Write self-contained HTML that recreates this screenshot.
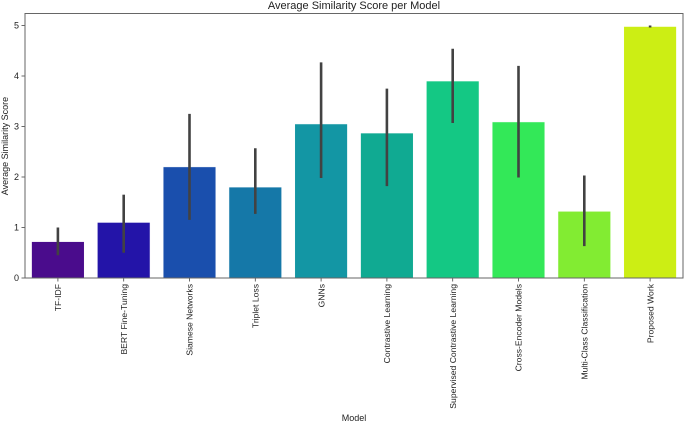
<!DOCTYPE html>
<html><head><meta charset="utf-8"><style>
html,body{margin:0;padding:0;background:#fff;}
svg{display:block;font-family:"Liberation Sans","DejaVu Sans",sans-serif;}
</style></head><body>
<svg id="chart" width="685" height="424" viewBox="0 0 685 424">
<rect x="0" y="0" width="685" height="424" fill="#fff"/>
<text x="354" y="9" font-size="11" text-anchor="middle" fill="#222">Average Similarity Score per Model</text>
<g id="bars"></g>
<g id="errs"></g>
<g id="yaxis"></g>
<g id="xaxis"></g>
<rect x="25" y="13.5" width="658" height="264.5" fill="none" stroke="#666" stroke-width="1"/>
<text transform="translate(8,146) rotate(-90)" font-size="9" text-anchor="middle" fill="#222">Average Similarity Score</text>
<text x="354" y="421" font-size="9" text-anchor="middle" fill="#222">Model</text>
</svg>
<script>
const categories = ["TF-IDF","BERT Fine-Tuning","Siamese Networks","Triplet Loss","GNNs","Contrastive Learning","Supervised Contrastive Learning","Cross-Encoder Models","Multi-Class Classification","Proposed Work"];
const values = [0.72,1.1,2.2,1.8,3.05,2.87,3.9,3.09,1.32,4.98];
const errLow = [0.45,0.5,1.15,1.27,1.98,1.82,3.07,1.99,0.63,4.96];
const errHigh = [1.0,1.65,3.25,2.57,4.27,3.75,4.54,4.2,2.03,5.0];
const colors = ["#4a0c8c","#2314a8","#1a4fad","#1578a8","#1396a4","#10aa92","#14c884","#33e858","#82ec32","#ccee14"];
const yTicks = [0,1,2,3,4,5];

const NS="http://www.w3.org/2000/svg";
const L=25,R=683,B=278,T=13.5;
const step=(R-L)/categories.length;
const xc=i=>L+step*(i+0.5);
const y=v=>B-v*50.5;
function mk(tag,attrs,parent){const e=document.createElementNS(NS,tag);for(const k in attrs)e.setAttribute(k,attrs[k]);parent.appendChild(e);return e;}
const gb=document.getElementById('bars'),ge=document.getElementById('errs'),gy=document.getElementById('yaxis'),gx=document.getElementById('xaxis');
categories.forEach((c,i)=>{
  const w=step*0.8;
  const r=mk('rect',{x:xc(i)-w/2,y:y(values[i]),width:w,height:B-y(values[i]),fill:colors[i],stroke:'#fff','stroke-width':0.5},gb);
  
  
  const l=mk('line',{x1:xc(i),x2:xc(i),y1:y(errLow[i]),y2:y(errHigh[i]),stroke:'#424242','stroke-width':2.6},ge);
  
  
  const t=mk('line',{x1:xc(i),x2:xc(i),y1:B,y2:B+3.5,stroke:'#444','stroke-width':0.8},gx);
  
  
  const tx=mk('text',{transform:`translate(${xc(i)+3.2},${B+6}) rotate(-90)`,'font-size':8.6,'text-anchor':'end',fill:'#222'},gx);
  tx.textContent=c;
  
  
});
yTicks.forEach(v=>{
  const t=mk('line',{x1:L-3.5,x2:L,y1:y(v),y2:y(v),stroke:'#444','stroke-width':0.8},gy);
  
  
  const tx=mk('text',{x:L-6,y:y(v)+3,'font-size':9,'text-anchor':'end',fill:'#222'},gy);
  tx.textContent=v;
  
  
});
</script>
</body></html>
